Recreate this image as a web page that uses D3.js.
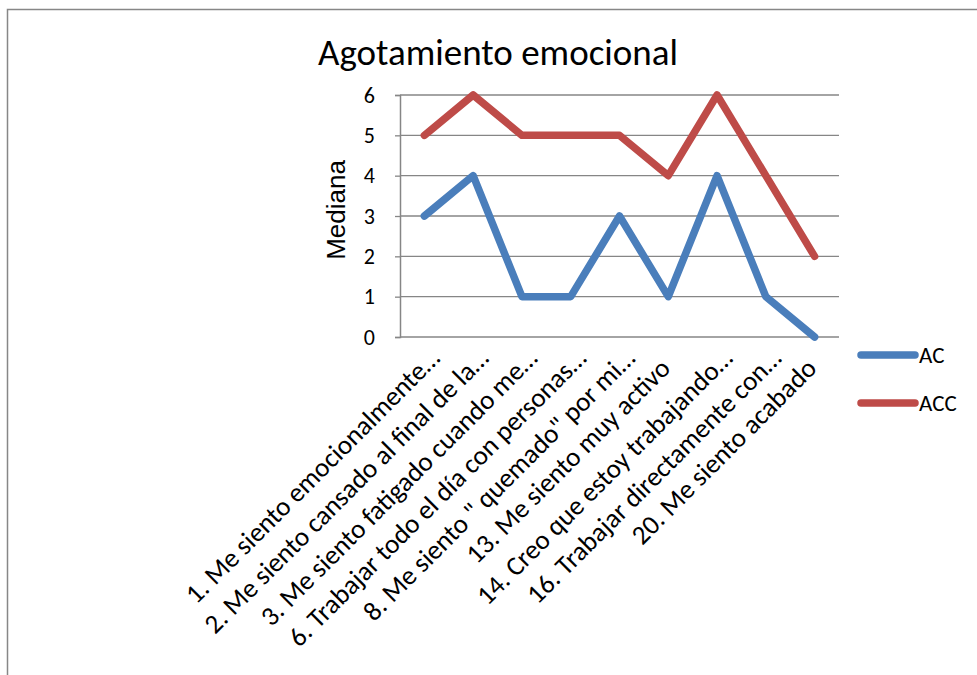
<!DOCTYPE html>
<html>
<head>
<meta charset="utf-8">
<script src="https://cdn.jsdelivr.net/npm/d3@7"></script>
<style>
  html, body { margin: 0; padding: 0; background: #fff; }
  svg { display: block; }
</style>
</head>
<body>
<svg id="chart" width="977" height="675"></svg>
<script>
// Items of the "Agotamiento emocional" subscale
const categories = [
  "1. Me siento emocionalmente…",
  "2. Me siento cansado al final de la…",
  "3. Me siento fatigado cuando me…",
  "6. Trabajar todo el día con personas…",
  "8. Me siento \" quemado\" por mi…",
  "13. Me siento muy activo",
  "14. Creo que estoy trabajando…",
  "16. Trabajar directamente con…",
  "20. Me siento acabado"
];
// Median score per item for each group
const seriesNames = ["AC", "ACC"];
const acValues  = [3, 4, 1, 1, 3, 1, 4, 1, 0];
const accValues = [5, 6, 5, 5, 5, 4, 6, 4, 2];
const yTicks = [0, 1, 2, 3, 4, 5, 6];
const colors = ["#4A7EBB", "#BE4B48"];

const title = "Agotamiento emocional";
const yTitle = "Mediana";

const FONT = "Carlito, Calibri, Lato, sans-serif";
const svg = d3.select("#chart");

// Outer chart frame
svg.append("rect")
  .attr("x", 7.5).attr("y", 9.5)
  .attr("width", 1000).attr("height", 700)
  .attr("fill", "#fff")
  .attr("stroke", "#878787").attr("stroke-width", 1.5);

const plot = { left: 400, right: 839, top: 95, bottom: 337 };

const x = d3.scalePoint()
  .domain(categories)
  .range([plot.left, plot.right])
  .padding(0.5);

const y = d3.scaleLinear()
  .domain([0, 6])
  .range([plot.bottom, plot.top]);

// Horizontal gridlines
svg.append("g")
  .selectAll("line")
  .data(yTicks.filter(d => d > 0))
  .join("line")
  .attr("x1", plot.left).attr("x2", plot.right)
  .attr("y1", d => y(d)).attr("y2", d => y(d))
  .attr("stroke", "#868686").attr("stroke-width", 1.3);

// Value axis
const yAxis = svg.append("g")
  .attr("transform", `translate(${plot.left},0)`)
  .call(d3.axisLeft(y).tickValues(yTicks).tickSize(5).tickPadding(20).tickFormat(d3.format("d")));
yAxis.select(".domain").attr("stroke", "#868686").attr("stroke-width", 1.5);
yAxis.selectAll(".tick line").attr("stroke", "#868686").attr("stroke-width", 1.3);
yAxis.selectAll(".tick text")
  .attr("font-family", FONT).attr("font-size", 22).attr("fill", "#000");

// Category axis with labels slanted at 45 degrees
const xAxis = svg.append("g")
  .attr("transform", `translate(0,${plot.bottom})`)
  .call(d3.axisBottom(x).tickSize(0).tickPadding(0));
xAxis.select(".domain")
  .attr("d", `M${plot.left},0H${plot.right}`)
  .attr("stroke", "#868686").attr("stroke-width", 1.5);
xAxis.selectAll(".tick text")
  .attr("font-family", FONT).attr("font-size", 27).attr("fill", "#000")
  .attr("text-anchor", "end")
  .attr("dy", null).attr("y", null)
  .attr("transform", d => {
    const shift = d.endsWith("…") ? 17 : 0;
    return `translate(${3 + shift * 0.8},${33 - shift * 0.6}) rotate(-45)`;
  });

// Series lines
const series = [acValues, accValues];
const line = d3.line()
  .x((d, i) => x(categories[i]))
  .y(d => y(d));

svg.append("g")
  .selectAll("path")
  .data(series)
  .join("path")
  .attr("d", d => line(d))
  .attr("fill", "none")
  .attr("stroke", (d, i) => colors[i])
  .attr("stroke-width", 7.5)
  .attr("stroke-linejoin", "round")
  .attr("stroke-linecap", "round");

// Title
svg.append("text")
  .attr("x", 498).attr("y", 65)
  .attr("text-anchor", "middle")
  .attr("font-family", FONT).attr("font-size", 37)
  .text(title);

// Value axis title
svg.append("text")
  .attr("transform", "translate(345,210) rotate(-90)")
  .attr("text-anchor", "middle")
  .attr("font-family", "Liberation Sans, Arial, sans-serif").attr("font-size", 26)
  .text(yTitle);

// Legend
const legend = svg.append("g")
  .selectAll("g")
  .data(seriesNames)
  .join("g")
  .attr("transform", (d, i) => `translate(0,${355 + i * 48})`);
legend.append("line")
  .attr("x1", 861).attr("x2", 915)
  .attr("stroke", (d, i) => colors[i])
  .attr("stroke-width", 7.5).attr("stroke-linecap", "round");
legend.append("text")
  .attr("x", 919).attr("y", 8)
  .attr("font-family", FONT).attr("font-size", 23)
  .text(d => d);
</script>
</body>
</html>
